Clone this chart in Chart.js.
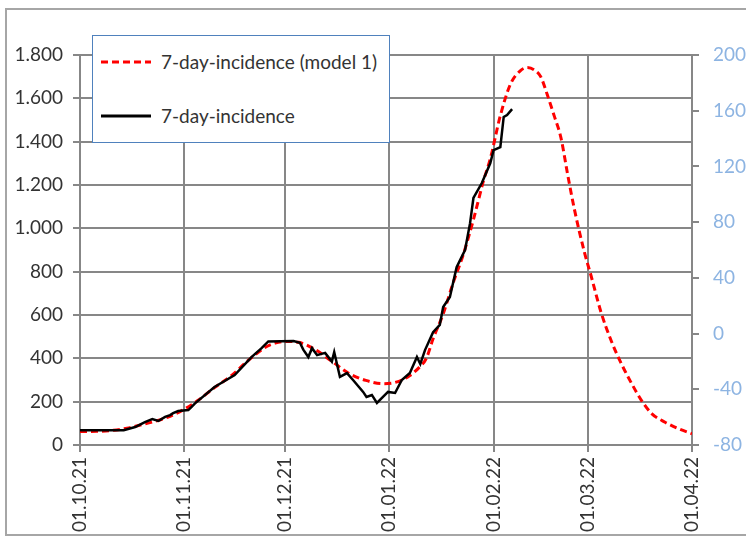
<html>
<head>
<meta charset="utf-8" />
<title>7-day-incidence</title>
<script src="https://cdn.jsdelivr.net/npm/chart.js@4.4.1/dist/chart.umd.min.js"></script>
<style>
  body { margin: 0; background: #fff; font-family: Lato, sans-serif; }
  #wrap { position: relative; width: 746px; height: 540px; overflow: hidden; }
  #frame { position: absolute; left: 5px; top: 8px; width: 800px; height: 528px; border: 2px solid #a6a6a6; box-sizing: border-box; }
  #grafico { position: absolute; left: 0; top: 0; }
  #legenda { position: absolute; left: 92px; top: 35px; width: 298px; height: 108px; border: 1.5px solid #4f81bd; background: #fff; box-sizing: border-box; color: #333; font-size: 19px; }
  .item { position: absolute; left: 6px; height: 24px; line-height: 24px; white-space: nowrap; }
  .item svg { position: absolute; left: 0; top: 7px; }
  .item span { position: absolute; left: 62px; top: 0; }
</style>
</head>
<body>
<div id="wrap">
  <div id="frame"></div>
  <canvas id="grafico" width="746" height="540"></canvas>
  <div id="legenda">
    <div class="item" style="top:14px">
      <svg width="56" height="10"><line x1="2" y1="5" x2="52" y2="5" stroke="#ff0000" stroke-width="3" stroke-dasharray="7 4" /></svg>
      <span>7-day-incidence (model 1)</span>
    </div>
    <div class="item" style="top:68px">
      <svg width="56" height="10"><line x1="2" y1="5" x2="52" y2="5" stroke="#000" stroke-width="3" /></svg>
      <span>7-day-incidence</span>
    </div>
  </div>
</div>
<script>
  // dias desde 01.10.21
  const mesesDias = [0, 31, 61, 92, 123, 151, 182];
  const mesesLabels = ['01.10.21', '01.11.21', '01.12.21', '01.01.22', '01.02.22', '01.03.22', '01.04.22'];

  // modelo (linha vermelha tracejada)
  const modeloDias = [0, 5, 10, 14, 18, 22, 26, 31, 35, 40, 45, 50, 55, 58, 61, 65, 70, 75, 80, 85, 90, 94, 98, 101, 103, 105, 108, 111, 114, 117, 120, 122, 125, 128, 131, 133, 135, 137, 139, 141, 143, 145, 147, 150, 152, 155, 158, 161, 164, 167, 170, 174, 178, 182];
  const modeloValores = [62, 63, 68, 78, 92, 108, 128, 165, 205, 265, 320, 390, 450, 470, 478, 474, 440, 385, 330, 298, 283, 290, 320, 360, 400, 490, 605, 750, 880, 1040, 1220, 1320, 1520, 1665, 1728, 1742, 1732, 1700, 1615, 1520, 1420, 1250, 1090, 890, 780, 610, 480, 375, 285, 205, 145, 105, 75, 52];

  // dados reais (linha preta)
  const reaisDias = [0, 13, 16.4, 19.3, 21.5, 23.3, 25.3, 26.8, 27.7, 29.2, 32.2, 33.2, 34.2, 40, 46, 51, 54, 56, 63.5, 65.4, 66.4, 67.9, 69, 70.5, 72.9, 74.9, 75.6, 77.3, 79.4, 81.2, 84.2, 85.2, 86.8, 88.3, 90.1, 91.6, 93.7, 95.7, 98.1, 100.2, 101.2, 102.6, 105, 107, 108, 110, 112, 114.5, 116, 117, 119.5, 122, 123, 125, 126, 127, 128.5];
  const reaisValores = [68, 68, 83, 106, 120, 111, 130, 138, 147, 157, 161, 176, 192, 268, 323, 406, 447, 478, 480, 472, 440, 406, 447, 415, 425, 385, 429, 314, 332, 300, 245, 222, 231, 194, 222, 245, 240, 300, 332, 406, 374, 438, 521, 554, 637, 683, 821, 900, 1024, 1140, 1209, 1300, 1361, 1375, 1514, 1523, 1550];

  function pontos(xs, ys) {
    return xs.map((x, i) => ({ x: x, y: ys[i] }));
  }

  function milhar(v) {
    return String(v).replace(/\B(?=(\d{3})+(?!\d))/g, '.');
  }

  const cinza = '#878787';
  const fonte = { family: 'Lato', size: 19 };

  var grafico = new Chart(document.getElementById('grafico'), {
    type: 'line',
    data: {
      datasets: [{
        label: '7-day-incidence',
        data: pontos(reaisDias, reaisValores),
        borderColor: '#000',
        borderWidth: 2.5,
        pointRadius: 0,
        tension: 0,
        yAxisID: 'y'
      }, {
        label: '7-day-incidence (model 1)',
        data: pontos(modeloDias, modeloValores),
        borderColor: '#ff0000',
        borderWidth: 3,
        borderDash: [7, 4],
        pointRadius: 0,
        cubicInterpolationMode: 'monotone',
        yAxisID: 'y'
      }]
    },
    options: {
      responsive: false,
      animation: false,
      layout: { padding: { top: 55, left: 0, right: 0, bottom: 0 } },
      plugins: { legend: { display: false }, tooltip: { enabled: false } },
      scales: {
        x: {
          type: 'linear',
          min: 0,
          max: 182,
          afterBuildTicks: s => { s.ticks = mesesDias.map(v => ({ value: v })); },
          afterFit: s => { s.height = 95; },
          ticks: {
            autoSkip: false,
            minRotation: 90,
            maxRotation: 90,
            padding: 5,
            color: '#333',
            font: fonte,
            callback: v => mesesLabels[mesesDias.indexOf(v)]
          },
          grid: { color: cinza, lineWidth: 2, tickLength: 7 },
          border: { color: cinza, width: 2 }
        },
        y: {
          position: 'left',
          min: 0,
          max: 1800,
          afterFit: s => { s.width = 80; },
          ticks: { stepSize: 200, padding: 10, color: '#333', font: fonte, callback: v => milhar(v) },
          grid: { color: cinza, lineWidth: 2, tickLength: 7 },
          border: { color: cinza, width: 2 }
        },
        y2: {
          position: 'right',
          min: -80,
          max: 200,
          afterFit: s => { s.width = 54; },
          ticks: { stepSize: 40, padding: 14, color: '#8db4e2', font: fonte },
          grid: { drawOnChartArea: false, color: cinza, lineWidth: 2, tickLength: 7 },
          border: { color: cinza, width: 2 }
        }
      }
    }
  });
</script>
</body>
</html>
